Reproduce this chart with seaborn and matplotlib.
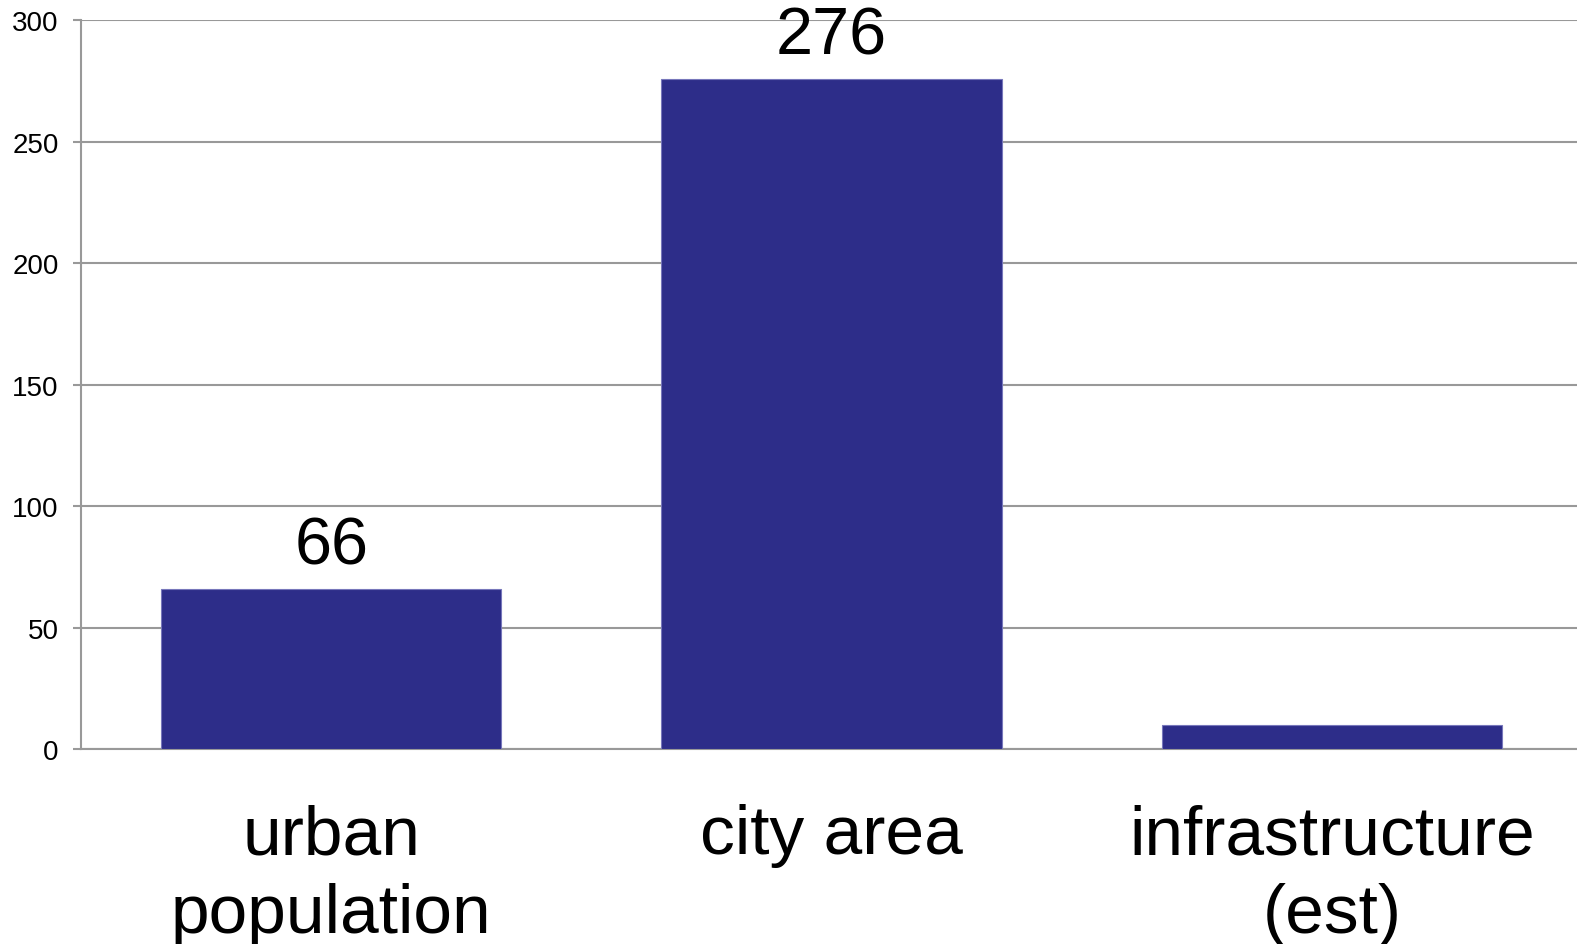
import numpy as np
import pandas as pd
import matplotlib
matplotlib.use("Agg")
import matplotlib.pyplot as plt
import seaborn as sns
from matplotlib.ticker import FixedLocator

categories = ["urban\npopulation", "city area", "infrastructure\n(est)"]
values = [66, 276, 10]
shown_labels = ["66", "276", ""]
y_ticks = [0, 50, 100, 150, 200, 250, 300]

bar_color = "#2D2D89"
grid_color = "#999999"

sns.set_style("white")
plt.rcParams["font.family"] = ["Liberation Sans", "DejaVu Sans"]
plt.rcParams["text.color"] = "black"
plt.rcParams["xtick.labelcolor"] = "black"
plt.rcParams["ytick.labelcolor"] = "black"

df = pd.DataFrame({"category": categories, "value": values})

fig = plt.figure(figsize=(15.77, 9.45), dpi=100)
# the plot area runs a little past the right edge of the figure
ax = fig.add_axes([81 / 1577, 1 - 750 / 945, 1501 / 1577, (750 - 21.3) / 945])

sns.barplot(data=df, x="category", y="value", color=bar_color, saturation=1,
            width=0.68, edgecolor="#7777bb", linewidth=0.8, ax=ax, zorder=3)

ax.set_xlim(-0.5, 2.5)
ax.set_ylim(0, 300)
ax.set_yticks(y_ticks)
ax.yaxis.grid(True, color=grid_color, linewidth=1.5, zorder=0)
ax.set_axisbelow(True)

for s in ["top", "right"]:
    ax.spines[s].set_visible(False)
for s in ["left", "bottom"]:
    ax.spines[s].set_color(grid_color)
    ax.spines[s].set_linewidth(1.5)

ax.set_xlabel("")
ax.set_ylabel("")

# category boundary ticks below the axis
ax.xaxis.set_minor_locator(FixedLocator([-0.5, 0.5, 1.5, 2.5]))
ax.tick_params(axis="x", which="minor", length=14.5, width=1.5, color=grid_color, direction="out")
ax.tick_params(axis="x", which="major", length=0, pad=39, labelsize=50, labelcolor="black")
ax.tick_params(axis="y", which="major", length=6, width=1.5, color=grid_color,
               pad=10, labelsize=20, left=True, labelcolor="black")
for lbl in ax.get_xticklabels():
    lbl.set_linespacing(1.3)

ax.bar_label(ax.containers[0], labels=shown_labels, padding=8, fontsize=48, color="black")

fig.savefig("out.png", dpi=100)
